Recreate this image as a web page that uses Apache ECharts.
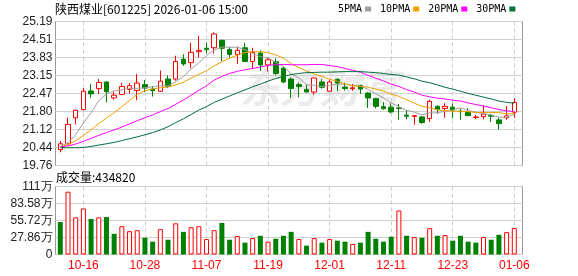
<!DOCTYPE html>
<html><head><meta charset="utf-8">
<script src="https://cdn.jsdelivr.net/npm/echarts@6/dist/echarts.min.js"></script>
<style>html,body{margin:0;padding:0;background:#fff}#c{width:578px;height:276px}</style>
</head><body><div id="c"></div>
<script>
const stockTitle = '陕西煤业[601225] 2026-01-06 15:00';
const volTitle = '成交量';
const dates = ['10-13','10-14','10-15','10-16','10-17','10-20','10-21','10-22','10-23','10-24','10-27','10-28','10-29','10-30','10-31',
'11-03','11-04','11-05','11-06','11-07','11-10','11-11','11-12','11-13','11-14','11-17','11-18','11-19','11-20','11-21','11-24','11-25','11-26','11-27','11-28',
'12-01','12-02','12-03','12-04','12-05','12-08','12-09','12-10','12-11','12-12','12-15','12-16','12-17','12-18','12-19','12-22','12-23','12-24','12-25','12-26','12-29','12-30','12-31',
'01-05','01-06'];
const opens = [20.36,20.58,21.56,21.87,22.57,22.66,22.91,22.31,22.44,22.63,22.59,22.81,22.64,22.56,23.02,23.02,23.77,23.64,24.05,24.18,24.20,24.48,24.13,23.95,24.20,23.68,24.00,23.55,23.67,23.43,23.02,22.81,22.63,22.53,22.91,22.56,23.01,22.72,22.66,22.78,22.49,22.28,21.98,21.96,21.93,21.66,21.61,21.59,21.53,21.99,21.91,21.96,21.81,21.76,21.57,21.60,21.64,21.48,21.56,21.77];
const closes = [20.58,21.31,21.84,22.56,22.46,22.89,22.54,22.41,22.74,22.77,22.87,22.68,22.58,22.94,22.74,23.68,23.59,24.03,24.10,24.13,24.72,24.18,23.95,24.10,23.68,24.02,23.55,23.75,23.23,22.91,22.66,22.74,22.53,23.06,22.71,22.91,22.87,22.66,22.69,22.64,22.31,21.99,21.90,21.78,21.91,21.62,21.64,21.38,22.18,21.87,21.99,21.85,21.79,21.64,21.59,21.70,21.62,21.34,21.63,22.14];
const lows = [20.26,20.51,21.31,21.83,22.31,22.46,22.14,22.24,22.41,22.47,22.22,22.53,22.36,22.53,22.68,22.96,23.52,23.43,23.83,23.98,23.98,23.70,23.83,23.59,23.68,23.40,23.33,23.31,23.16,22.86,22.31,22.33,22.52,22.43,22.66,22.53,22.56,22.58,22.58,22.46,21.93,21.91,21.86,21.73,21.49,21.50,21.30,21.33,21.41,21.72,21.56,21.55,21.48,21.62,21.51,21.50,21.40,21.12,21.48,21.56];
const highs = [20.68,21.56,21.87,22.68,22.83,23.02,22.93,22.56,22.87,22.87,23.21,22.98,22.76,23.34,23.16,23.90,23.95,24.39,24.65,24.40,24.78,24.50,24.23,24.24,24.39,24.20,24.10,23.83,23.80,23.48,23.08,22.89,22.81,23.08,23.02,22.98,23.04,22.89,22.83,22.81,22.53,22.31,22.15,22.10,22.08,21.84,21.66,21.63,22.24,22.03,22.11,22.11,21.90,21.92,21.67,22.03,21.71,21.57,22.00,22.30];
const ma5 = [20.47,20.62,20.92,21.36,21.75,22.21,22.46,22.57,22.61,22.67,22.67,22.69,22.73,22.77,22.76,22.92,23.11,23.40,23.63,23.91,24.11,24.23,24.22,24.22,24.13,23.99,23.86,23.82,23.65,23.49,23.22,23.06,22.81,22.78,22.74,22.79,22.82,22.84,22.77,22.75,22.63,22.46,22.31,22.12,21.98,21.84,21.77,21.67,21.75,21.74,21.81,21.85,21.94,21.83,21.77,21.71,21.67,21.58,21.58,21.69];
const ma10 = [20.46,20.55,20.69,20.90,21.10,21.34,21.55,21.75,21.98,22.21,22.44,22.58,22.65,22.69,22.72,22.80,22.90,23.06,23.20,23.33,23.52,23.67,23.81,23.92,24.02,24.05,24.05,24.02,23.93,23.81,23.60,23.46,23.32,23.21,23.12,23.01,22.94,22.83,22.77,22.75,22.71,22.64,22.57,22.45,22.37,22.24,22.11,21.99,21.94,21.86,21.83,21.81,21.80,21.79,21.76,21.76,21.76,21.76,21.70,21.73];
const ma20 = [20.46,20.50,20.57,20.67,20.78,20.90,21.00,21.10,21.21,21.33,21.45,21.56,21.67,21.79,21.91,22.07,22.23,22.41,22.59,22.77,22.98,23.12,23.23,23.31,23.37,23.42,23.47,23.54,23.56,23.57,23.56,23.56,23.56,23.57,23.57,23.53,23.49,23.42,23.35,23.28,23.16,23.05,22.95,22.83,22.74,22.62,22.53,22.41,22.35,22.30,22.27,22.22,22.19,22.12,22.06,22.00,21.94,21.87,21.82,21.79];
const ma30 = [20.43,20.43,20.43,20.44,20.48,20.53,20.58,20.63,20.70,20.77,20.84,20.92,21.00,21.10,21.22,21.38,21.52,21.68,21.85,21.98,22.14,22.26,22.38,22.50,22.61,22.73,22.83,22.94,23.04,23.12,23.19,23.23,23.26,23.27,23.28,23.28,23.29,23.30,23.30,23.30,23.28,23.26,23.23,23.19,23.17,23.10,23.03,22.94,22.88,22.80,22.71,22.64,22.56,22.48,22.41,22.34,22.27,22.19,22.14,22.11];
const volumes = [533000,1029000,609000,754000,581000,609000,614000,339000,463000,382000,398000,275000,210000,415000,242000,511000,371000,447000,463000,253000,398000,517000,242000,302000,194000,269000,307000,210000,258000,307000,371000,253000,145000,269000,194000,253000,226000,210000,172000,194000,371000,258000,210000,291000,721000,307000,285000,275000,431000,307000,318000,226000,307000,210000,194000,285000,242000,323000,366000,434820];
const prevClose = 20.70;
const priceTicks = ['19.76','20.44','21.12','21.80','22.47','23.15','23.83','24.51','25.19'];
const volTicks = ['0','27.86万','55.72万','83.58万','111万'];
const maNames = ['5PMA','10PMA','20PMA','30PMA'];
const maColors = ['#a0a0a0','#f0a000','#ff00ff','#00703c'];
const priceMin = 19.76, priceMax = 25.19, volMax = 1114400;

const pad = a => ['-'].concat(a, ['-']);
const cats = pad(dates).map((d, i) => d === '-' ? 'p' + i : d);
const showIdx = (k) => k >= 1 && k <= dates.length && (k - 4) % 8 === 0;
const candleData = pad(dates.map((d, i) => [opens[i], closes[i], lows[i], highs[i]]));
const volData = pad(volumes.map((v, i) => {
  const pc = i === 0 ? prevClose : closes[i - 1];
  const up = closes[i] >= pc;
  return { value: v, itemStyle: up ? { color: '#ffffff', borderColor: '#ff0000', borderWidth: 1 } : { color: '#008000', borderColor: '#008000', borderWidth: 0 } };
}));
const mas = [ma5, ma10, ma20, ma30];

const FL = 55.5, FW = 467;
const DL = 52.6, DW = 469.4;
const PT = 21.5, PH = 144, VT = 186.5, VH = 68;
const axisFont = { fontSize: 12, fontFamily: 'Liberation Sans, Arial, sans-serif', color: '#222' };

const option = {
  animation: false,
  backgroundColor: '#ffffff',
  title: [
    { text: stockTitle, left: 55, top: 3, padding: 0, textStyle: { fontSize: 12, fontWeight: 'normal', color: '#000', fontFamily: 'Noto Sans CJK SC' } },
    { text: volTitle + ':' + volumes[volumes.length - 1], left: 56, top: 171, padding: 0, textStyle: { fontSize: 12, fontWeight: 'normal', color: '#000', fontFamily: 'Noto Sans CJK SC' } }
  ],
  legend: {
    data: maNames, left: 338, top: 4, padding: 0, align: 'right', icon: 'rect', itemWidth: 6, itemHeight: 5, itemGap: 9, selectedMode: false,
    textStyle: { fontSize: 10, fontFamily: 'DejaVu Sans Mono, monospace', color: '#000', padding: [0, -2, 0, 0] }
  },
  graphic: [
    { type: 'text', left: 240, top: 68, z: 0, silent: true, style: { text: '东方财富', fontSize: 40, fontWeight: 'bold', fontStyle: 'italic', fill: '#ebebeb', fontFamily: 'Noto Sans CJK SC' } }
  ],
  grid: [
    { left: FL, top: PT, width: FW, height: PH, show: true, borderColor: '#999', borderWidth: 1, backgroundColor: 'transparent' },
    { left: DL, top: PT, width: DW, height: PH },
    { left: FL, top: VT, width: FW, height: VH, show: true, borderColor: '#999', borderWidth: 1, backgroundColor: 'transparent' },
    { left: DL, top: VT, width: DW, height: VH }
  ],
  xAxis: [
    { type: 'value', gridIndex: 0, min: 0, max: 1, show: false },
    { type: 'category', gridIndex: 1, data: cats, boundaryGap: false, axisLine: { show: false }, axisTick: { show: false }, axisLabel: { show: false },
      splitLine: { show: true, interval: (k) => showIdx(k), lineStyle: { color: '#cccccc', type: [4, 3], width: 1 } } },
    { type: 'value', gridIndex: 2, min: 0, max: 1, show: false },
    { type: 'category', gridIndex: 3, data: cats, boundaryGap: false, axisLine: { show: false }, axisTick: { show: false },
      axisLabel: { show: true, interval: (k) => showIdx(k), margin: 5, fontSize: 12, fontFamily: 'Liberation Sans, Arial, sans-serif', color: '#ff0000', hideOverlap: false },
      splitLine: { show: true, interval: (k) => showIdx(k), lineStyle: { color: '#cccccc', type: [4, 3], width: 1 } } }
  ],
  yAxis: [
    { type: 'value', gridIndex: 0, min: 0, max: 8, interval: 1, axisLine: { show: false }, axisTick: { show: false },
      axisLabel: Object.assign({ margin: 3, showMinLabel: true, showMaxLabel: true, hideOverlap: false, formatter: (v) => priceTicks[Math.round(v)] }, axisFont),
      splitLine: { show: true, lineStyle: { color: '#d0d0d0', width: 1 } } },
    { type: 'value', gridIndex: 1, min: priceMin, max: priceMax, show: false, splitLine: { show: false } },
    { type: 'value', gridIndex: 2, min: 0, max: 4, interval: 1, axisLine: { show: false }, axisTick: { show: false },
      axisLabel: Object.assign({ margin: 3, showMinLabel: true, showMaxLabel: true, hideOverlap: false, formatter: (v) => volTicks[Math.round(v)] }, axisFont),
      splitLine: { show: true, lineStyle: { color: '#d0d0d0', width: 1 } } },
    { type: 'value', gridIndex: 3, min: 0, max: volMax, show: false, splitLine: { show: false } }
  ],
  series: [
    { type: 'candlestick', name: 'K', xAxisIndex: 1, yAxisIndex: 1, data: candleData, barWidth: 5, clip: false,
      itemStyle: { color: '#ffffff', color0: '#008000', borderColor: '#ff0000', borderColor0: '#008000', borderWidth: 1 } },
    { type: 'bar', name: 'VOL', xAxisIndex: 3, yAxisIndex: 3, data: volData, barWidth: 5, clip: false }
  ].concat(mas.map((m, j) => ({
    type: 'line', name: maNames[j], xAxisIndex: 1, yAxisIndex: 1, data: pad(m), symbol: 'none', clip: false,
    lineStyle: { color: maColors[j], width: 1 }, itemStyle: { color: maColors[j] }, z: 3
  })))
};
const chart = echarts.init(document.getElementById('c'), null, { renderer: 'canvas' });
chart.setOption(option);
</script></body></html>
